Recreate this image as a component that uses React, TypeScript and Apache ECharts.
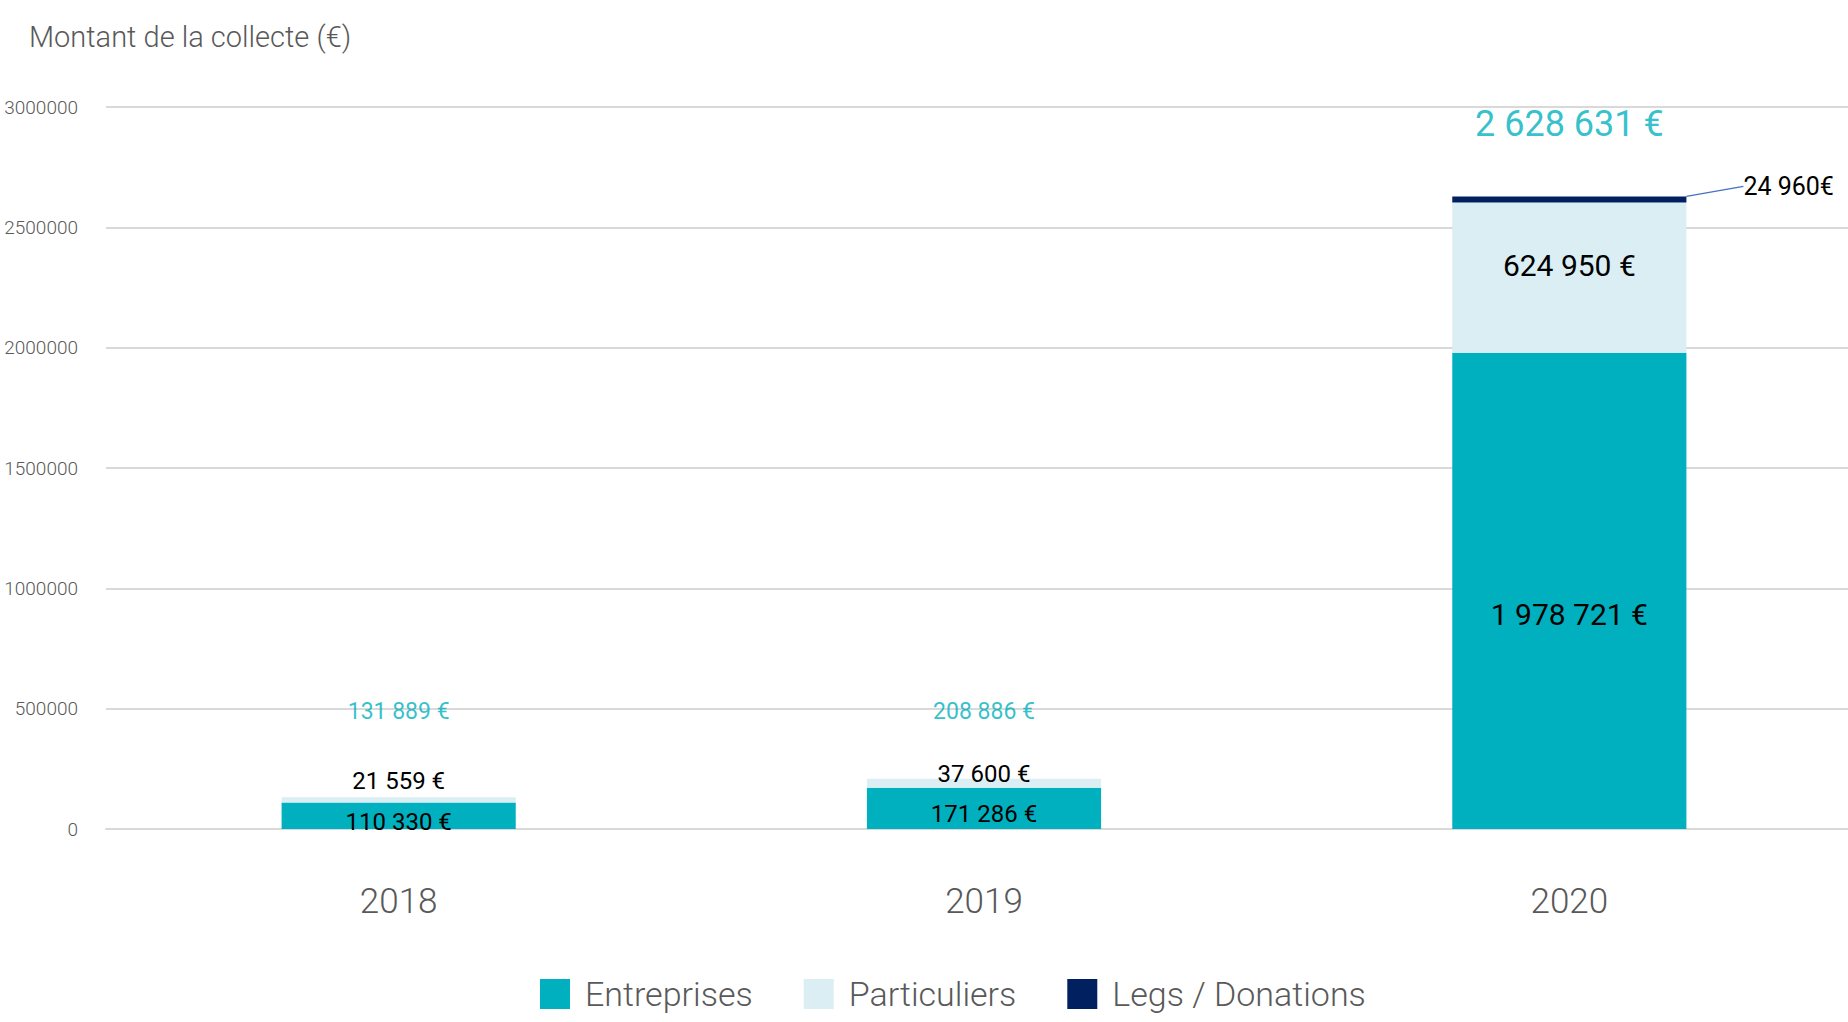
import React, { useEffect, useRef } from "react";
import * as echarts from "echarts";

const years = ["2018", "2019", "2020"];
const entreprises = [110330, 171286, 1978721];
const particuliers = [21559, 37600, 624950];
const legs = [0, 0, 24960];
const totals = [131889, 208886, 2628631];
const yTicks = { min: 0, max: 3000000, interval: 500000 };

const FONT = "Roboto, 'Noto Sans', sans-serif";
const TEAL = "#00B0BE";
const LIGHT = "#DAEEF3";
const NAVY = "#002060";
const GREY = "#595959";

const group = (v: number) => String(v).replace(/\B(?=(\d{3})+(?!\d))/g, " ");

export default function App() {
  const ref = useRef<HTMLDivElement>(null);
  useEffect(() => {
    if (!ref.current) return;
    const chart = echarts.init(ref.current, null, { renderer: "svg" });
    const entOffsets = [[0, 6], [0, 6], [0, 24]];
    const entSizes = [24, 24, 30];
    const partOffsets = [[0, -19], [0, -9], [0, -12]];
    const partSizes = [24, 24, 30];
    const totOffsets = [[0, -86], [0, -67], [0, -72]];
    const totSizes = [23, 23, 36];
    chart.setOption({
      animation: false,
      textStyle: { fontFamily: FONT },
      title: {
        text: "Montant de la collecte (€)",
        left: 29,
        top: 22,
        padding: 0,
        textStyle: { fontFamily: FONT, fontSize: 29, fontWeight: 300, color: GREY },
      },
      legend: {
        data: ["Entreprises", "Particuliers", "Legs / Donations"],
        left: 540,
        top: 977,
        padding: 0,
        itemWidth: 30,
        itemHeight: 30,
        itemGap: 51,
        icon: "rect",
        textStyle: { fontFamily: FONT, fontSize: 34, fontWeight: 300, color: GREY, padding: [0, 0, 0, 10] },
      },
      grid: { left: 106, right: -14, top: 107, bottom: 193, outerBoundsMode: "none", containLabel: false },
      xAxis: {
        type: "category",
        data: years,
        axisTick: { show: false },
        axisLine: { lineStyle: { color: "#D9D9D9", width: 2 } },
        axisLabel: { fontFamily: FONT, fontSize: 35, fontWeight: 300, color: GREY, margin: 55 },
      },
      yAxis: {
        type: "value",
        min: yTicks.min,
        max: yTicks.max,
        interval: yTicks.interval,
        axisLabel: {
          fontFamily: FONT,
          fontSize: 19,
          fontWeight: 300,
          color: GREY,
          margin: 28,
          formatter: (v: number) => String(v),
        },
        splitLine: { lineStyle: { color: "#D9D9D9", width: 2 } },
        axisLine: { show: false },
        axisTick: { show: false },
      },
      series: [
        {
          name: "Entreprises",
          type: "bar",
          stack: "total",
          barWidth: "40%",
          itemStyle: { color: TEAL },
          data: entreprises.map((v, i) => ({
            value: v,
            label: { offset: entOffsets[i], fontSize: entSizes[i] },
          })),
          label: {
            show: true,
            position: "inside",
            color: "#000",
            fontFamily: FONT,
            formatter: (p: any) => group(p.value) + " €",
          },
        },
        {
          name: "Particuliers",
          type: "bar",
          stack: "total",
          itemStyle: { color: LIGHT },
          data: particuliers.map((v, i) => ({
            value: v,
            label: { offset: partOffsets[i], fontSize: partSizes[i] },
          })),
          label: {
            show: true,
            position: "inside",
            color: "#000",
            fontFamily: FONT,
            formatter: (p: any) => group(p.value) + " €",
          },
        },
        {
          name: "Legs / Donations",
          type: "bar",
          stack: "total",
          itemStyle: { color: NAVY },
          data: legs.map((v) => ({ value: v, label: { show: v > 0 } })),
          label: {
            show: true,
            position: "right",
            distance: 2,
            color: "#000",
            fontFamily: FONT,
            fontSize: 25,
            formatter: (p: any) => group(p.value) + "€",
          },
          labelLayout: { dx: 55, dy: -13 },
          labelLine: { show: true, lineStyle: { color: "#4472C4", width: 1.5 } },
        },
        {
          name: "Total",
          type: "scatter",
          symbolSize: 0,
          silent: true,
          z: 5,
          data: totals.map((v, i) => ({
            value: v,
            label: { offset: totOffsets[i], fontSize: totSizes[i] },
          })),
          label: {
            show: true,
            position: "inside",
            color: TEAL,
            fontFamily: FONT,
            formatter: (p: any) => group(p.value) + " €",
          },
        },
      ],
    });
    return () => chart.dispose();
  }, []);
  return (
    <div
      ref={ref}
      style={{ position: "fixed", left: 0, top: 0, width: 1848, height: 1022, background: "#fff" }}
    />
  );
}
